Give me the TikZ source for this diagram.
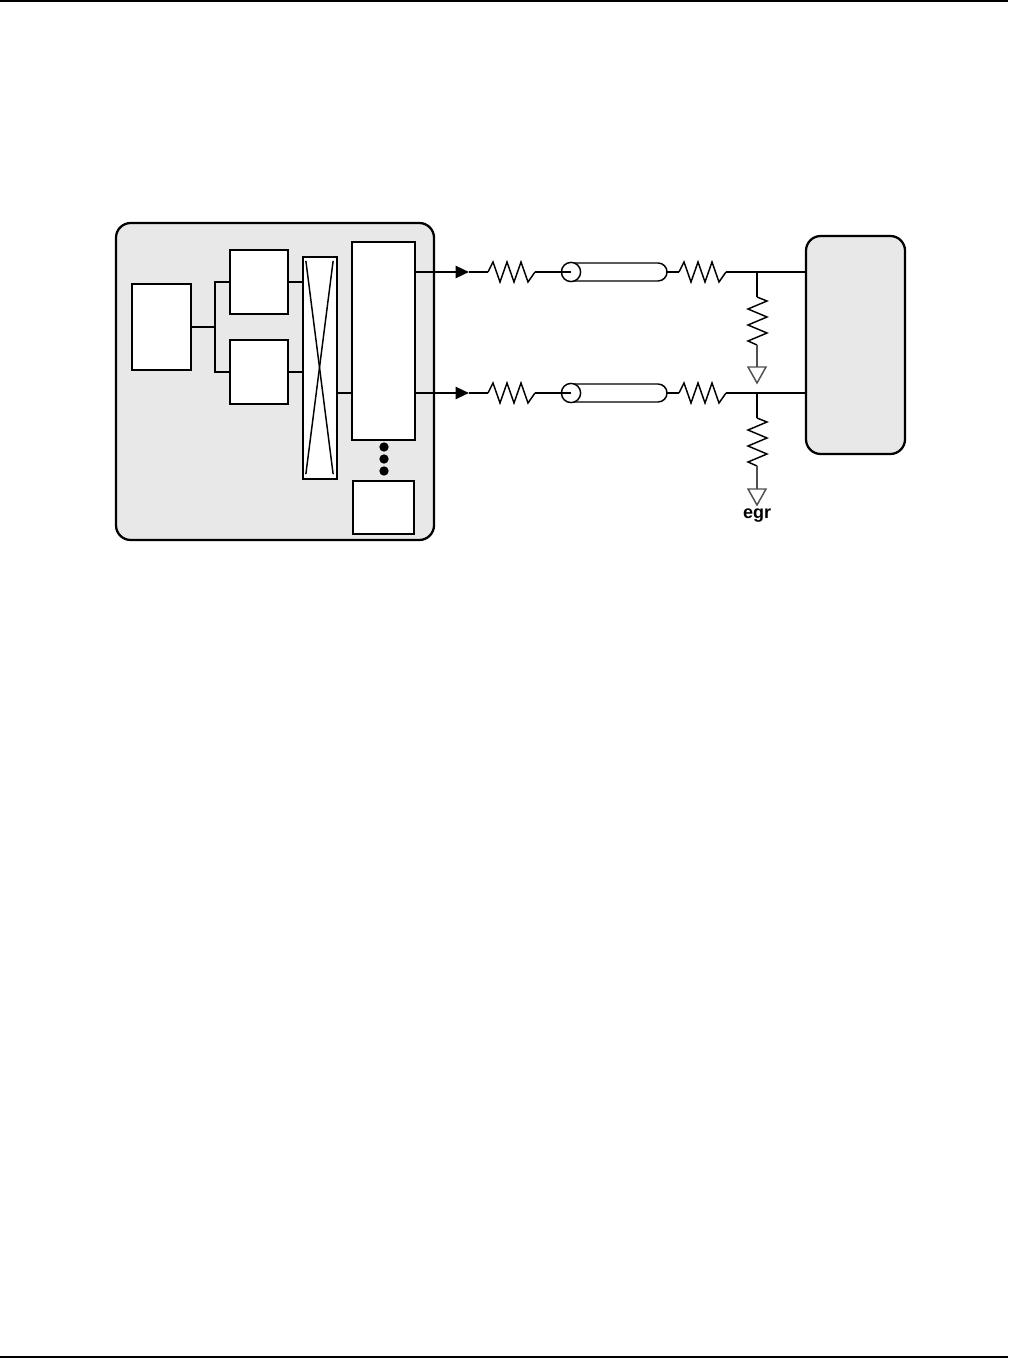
\documentclass[tikz,border=0pt]{standalone}
\usepackage{fontspec}
\setmainfont{Liberation Sans}
\usetikzlibrary{fit,arrows.meta}
\definecolor{boxgray}{RGB}{232,232,232}
\definecolor{gndgray}{RGB}{80,80,80}
\begin{document}
\begin{tikzpicture}[x=0.75pt,y=-0.75pt,
  blk/.style={draw, line width=1.7pt, fill=white, inner sep=0pt},
  panel/.style={draw, line width=1.7pt, fill=boxgray, inner sep=0pt, rounded corners=11pt},
  wire/.style={line width=1.1pt},
  bus/.style={line width=1.7pt},
  gnd/.style={line width=1.1pt, draw=gndgray},
  tip/.style={-{Triangle[length=10pt,width=9pt]}},
  dot/.style={circle, fill, inner sep=0pt, minimum size=7pt},
  lbl/.style={font=\bfseries\fontsize{13.5}{16}\selectfont, inner sep=0pt},
  resH/.pic={\coordinate (-in) at (0,0); \coordinate (-out) at (47,0);
    \draw[wire] (0,0) -- ++(5,-10) -- ++(7,20) -- ++(7,-20) -- ++(7,20) -- ++(7,-20) -- ++(7,20) -- ++(7,-10);},
  resV/.pic={\coordinate (-in) at (0,0); \coordinate (-out) at (0,48);
    \draw[wire] (0,0) -- ++(10,4) -- ++(-19,8) -- ++(19,8) -- ++(-19,8) -- ++(19,8) -- ++(-19,8) -- ++(9,4);},
  cable/.pic={\coordinate (-in) at (0,0); \coordinate (-out) at (96,0);
    \draw[wire] (0,-9) -- (87,-9) arc[start angle=90, end angle=-90, radius=6.75pt] -- (0,9);
    \draw[wire, fill=white] (0,0) circle[radius=7.2pt];},
  ground/.pic={\coordinate (-top) at (0,0);
    \draw[gnd, fill=white] (-9,0) -- (9,0) -- (0,16) -- cycle;}
]
\useasboundingbox (0,0) rectangle (1008,1358);
% page rules
\draw[line width=1.5pt] (0,1) -- (1008,1);
\draw[line width=1.5pt] (0,1357) -- (1008,1357);

% signal levels
\coordinate (s1) at (0,272);
\coordinate (s2) at (0,393);

% left panel
\node[panel, fit={(116,223) (434,540)}] (P) {};
\node[blk, fit={(132,284) (191,370)}] (L) {};
\node[blk, fit={(230,250) (288,314)}] (A) {};
\node[blk, fit={(230,340) (288,404)}] (B) {};
\node[blk, fit={(303,257) (337,479)}] (X) {};
\node[blk, fit={(352,242) (415,440)}] (T) {};
\node[blk, fit={(353,481) (414,534)}] (S) {};
\node[dot] (d1) at (384,447) {};
\node[dot] (d2) at (384,459) {};
\node[dot] (d3) at (384,471) {};
\coordinate (jx) at (215,327);

\draw[wire] ([shift={(4,5)}]X.north west) -- ([shift={(-5,-6)}]X.south east);
\draw[wire] ([shift={(-5,5)}]X.north east) -- ([shift={(4,-6)}]X.south west);

\draw[bus] (L.east) -- (L.east -| jx);
\draw[wire] (A.west) -| (jx) |- (B.west);
\draw[wire] (A.east) -- (A.east -| X.west);
\draw[wire] (B.east) -- (B.east -| X.west);
\draw[wire] (X.east |- s2) -- (T.west |- s2);

% right panel
\node[panel, fit={(806,236) (905,454)}] (R) {};

% arrows
\coordinate (a1) at (469,272);
\coordinate (a2) at (469,393);
\draw[bus, tip] (T.east |- s1) -- (a1);
\draw[bus, tip] (T.east |- s2) -- (a2);

% components line 1
\pic (r1) at (488,272) {resH};
\pic (c1) at (571,272) {cable};
\pic (r2) at (679,272) {resH};
\coordinate (j1) at (757,272);
\pic (rv1) at (757,297) {resV};
\pic (g1) at (757,367) {ground};

% components line 2
\pic (r3) at (488,393) {resH};
\pic (c2) at (571,393) {cable};
\pic (r4) at (679,393) {resH};
\coordinate (j2) at (757,393);
\pic (rv2) at (757,418) {resV};
\pic (g2) at (757,489) {ground};

% wires line 1
\draw[wire] (a1) -- (r1-in);
\draw[wire] (r1-out) -- (c1-in);
\draw[wire] (c1-out) -- (r2-in);
\draw[wire] (r2-out) -- (R.west |- s1);
\draw[wire] (j1) -- (rv1-in);
\draw[gnd] (rv1-out) -- (g1-top);

% wires line 2
\draw[wire] (a2) -- (r3-in);
\draw[wire] (r3-out) -- (c2-in);
\draw[wire] (c2-out) -- (r4-in);
\draw[line width=1.5pt] (r4-out) -- (R.west |- s2);
\draw[wire] (j2) -- (rv2-in);
\draw[gnd] (rv2-out) -- (g2-top);

\node[lbl, anchor=base] (egr) at (757,518) {egr};
\end{tikzpicture}
\end{document}
